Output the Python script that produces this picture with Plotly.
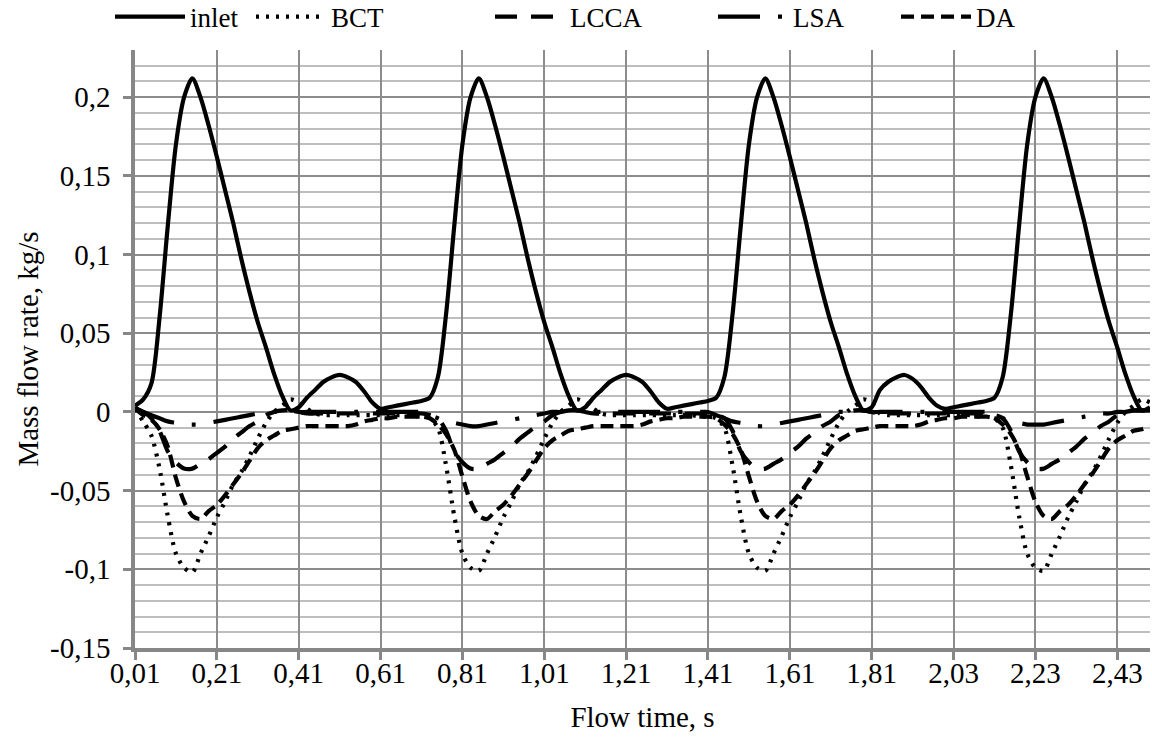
import plotly.graph_objects as go

# ---------------- data ----------------
times = [
    0.01, 0.03, 0.05, 0.07, 0.09, 0.11, 0.13, 0.15, 0.17, 0.19,
    0.21, 0.23, 0.25, 0.27, 0.29, 0.31, 0.33, 0.35, 0.37, 0.39,
    0.41, 0.43, 0.45, 0.47, 0.49, 0.51, 0.53, 0.55, 0.57, 0.59,
    0.61, 0.63, 0.65, 0.67, 0.69, 0.71, 0.73, 0.75, 0.77, 0.79,
    0.81, 0.83, 0.85, 0.87, 0.89, 0.91, 0.93, 0.95, 0.97, 0.99,
    1.01, 1.03, 1.05, 1.07, 1.09, 1.11, 1.13, 1.15, 1.17, 1.19,
    1.21, 1.23, 1.25, 1.27, 1.29, 1.31, 1.33, 1.35, 1.37, 1.39,
    1.41, 1.43, 1.45, 1.47, 1.49, 1.51, 1.53, 1.55, 1.57, 1.59,
    1.61, 1.63, 1.65, 1.67, 1.69, 1.71, 1.73, 1.75, 1.77, 1.79,
    1.81, 1.85, 1.87, 1.89, 1.91, 1.93, 1.95, 1.97, 1.99, 2.01,
    2.03, 2.05, 2.07, 2.09, 2.11, 2.13, 2.15, 2.17, 2.19, 2.21,
    2.23, 2.25, 2.27, 2.29, 2.31, 2.33, 2.35, 2.37, 2.39, 2.41,
    2.43, 2.45, 2.47, 2.49, 2.51,
]

x_tick_labels = ["0,01", "0,21", "0,41", "0,61", "0,81", "1,01", "1,21",
                 "1,41", "1,61", "1,81", "2,03", "2,23", "2,43"]
y_tick_values = [-0.15, -0.1, -0.05, 0, 0.05, 0.1, 0.15, 0.2]
y_tick_labels = ["-0,15", "-0,1", "-0,05", "0", "0,05", "0,1", "0,15", "0,2"]

# inlet
inlet_c1 = [0.004, 0.008, 0.018, 0.060, 0.118, 0.170, 0.200, 0.212, 0.200, 0.182,
            0.162, 0.141, 0.120, 0.097, 0.076, 0.057, 0.041, 0.024, 0.010, 0.001,
            0.003, 0.009, 0.014, 0.019, 0.022, 0.0235, 0.022, 0.019, 0.013, 0.006,
            0.002, 0.003, 0.004, 0.005, 0.006]
inlet_c2 = [0.007, 0.009, 0.022, 0.062, 0.118, 0.170, 0.200, 0.212, 0.200, 0.182,
            0.162, 0.141, 0.120, 0.097, 0.076, 0.057, 0.041, 0.024, 0.010, 0.001,
            0.003, 0.009, 0.014, 0.019, 0.022, 0.0235, 0.022, 0.019, 0.013, 0.006,
            0.002, 0.003, 0.004, 0.005, 0.006]
inlet_c3 = [0.007, 0.009, 0.022, 0.062, 0.118, 0.170, 0.200, 0.212, 0.200, 0.182,
            0.162, 0.141, 0.120, 0.097, 0.076, 0.057, 0.041, 0.024, 0.010, 0.001,
            0.003, 0.014, 0.019, 0.022, 0.0235, 0.021, 0.016, 0.009, 0.004, 0.002,
            0.003, 0.004, 0.005, 0.006]
inlet_c4 = [0.007, 0.009, 0.022, 0.062, 0.118, 0.170, 0.200, 0.212, 0.200, 0.182,
            0.162, 0.141, 0.120, 0.097, 0.076, 0.057, 0.041, 0.024, 0.010, 0.001,
            0.003]

# BCT
bct_c1 = [0.002, -0.006, -0.015, -0.036, -0.066, -0.090, -0.099, -0.102, -0.090, -0.079,
          -0.067, -0.057, -0.046, -0.038, -0.028, -0.017, -0.007, 0.000, 0.004, 0.008,
          0.006, 0.002, -0.001, -0.002, -0.002, -0.002, -0.002, -0.002, -0.002, -0.002,
          -0.002, -0.002, -0.002, -0.002, -0.003]
bct_c2 = [-0.003, -0.004, -0.010, -0.034, -0.066, -0.090, -0.099, -0.101, -0.090, -0.079,
          -0.067, -0.057, -0.046, -0.038, -0.028, -0.017, -0.007, 0.000, 0.004, 0.008,
          0.006, 0.002, -0.001, -0.002, -0.002, -0.002, -0.002, -0.002, -0.002, -0.002,
          -0.002, -0.002, -0.002, -0.002, -0.003]
bct_c3 = [-0.003, -0.004, -0.010, -0.034, -0.066, -0.090, -0.099, -0.101, -0.090, -0.079,
          -0.067, -0.057, -0.046, -0.038, -0.028, -0.017, -0.007, 0.000, 0.004, 0.008,
          0.006, -0.001, -0.002, -0.002, -0.002, -0.002, -0.002, -0.002, -0.002, -0.002,
          -0.002, -0.002, -0.002, -0.003]
bct_c4 = [-0.003, -0.004, -0.010, -0.034, -0.066, -0.090, -0.099, -0.101, -0.090, -0.079,
          -0.067, -0.057, -0.046, -0.038, -0.028, -0.017, -0.007, 0.000, 0.004, 0.008,
          0.006]

# LCCA
lcca_c1 = [0.002, 0.000, -0.004, -0.012, -0.025, -0.032, -0.036, -0.036, -0.033, -0.030,
           -0.026, -0.022, -0.017, -0.013, -0.009, -0.006, -0.002, 0.000, 0.001, 0.001,
           0.000, -0.001, -0.001, -0.001, -0.001, -0.001, -0.001, -0.001, -0.001, -0.001,
           -0.001, -0.001, -0.001, -0.001, -0.001]
lcca_c2 = [-0.001, -0.002, -0.004, -0.012, -0.025, -0.032, -0.036, -0.036, -0.033, -0.030,
           -0.026, -0.022, -0.017, -0.013, -0.009, -0.006, -0.002, 0.000, 0.001, 0.001,
           0.000, -0.001, -0.001, -0.001, -0.001, -0.001, -0.001, -0.001, -0.001, -0.001,
           -0.001, -0.001, -0.001, -0.001, -0.001]
lcca_c3 = [-0.001, -0.002, -0.004, -0.012, -0.025, -0.032, -0.036, -0.036, -0.033, -0.030,
           -0.026, -0.022, -0.017, -0.013, -0.009, -0.006, -0.002, 0.000, 0.001, 0.001,
           0.000, -0.001, -0.001, -0.001, -0.001, -0.001, -0.001, -0.001, -0.001, -0.001,
           -0.001, -0.001, -0.001, -0.001]
lcca_c4 = [-0.001, -0.002, -0.004, -0.012, -0.025, -0.032, -0.036, -0.036, -0.033, -0.030,
           -0.026, -0.022, -0.017, -0.013, -0.009, -0.006, -0.002, 0.000, 0.001, 0.001,
           0.001]

# LSA
lsa_c1 = [0.003, 0.000, -0.002, -0.004, -0.006, -0.007, -0.008, -0.008, -0.008, -0.007,
          -0.006, -0.005, -0.004, -0.003, -0.002, -0.001, 0.000, 0.000, 0.001, 0.001,
          0.000, 0.000, 0.000, 0.000, 0.000, 0.000, 0.000, 0.000, 0.000, 0.000,
          0.000, 0.000, 0.000, 0.000, 0.000]
lsa_c2 = [0.000, -0.002, -0.004, -0.006, -0.007, -0.008, -0.009, -0.009, -0.008, -0.007,
          -0.006, -0.005, -0.004, -0.003, -0.002, -0.001, 0.000, 0.000, 0.001, 0.001,
          0.000, 0.000, 0.000, 0.000, 0.000, 0.000, 0.000, 0.000, 0.000, 0.000,
          0.000, 0.000, 0.000, 0.000, 0.000]
lsa_c3 = [0.000, -0.002, -0.004, -0.006, -0.007, -0.008, -0.009, -0.009, -0.008, -0.007,
          -0.006, -0.005, -0.004, -0.003, -0.002, -0.001, 0.000, 0.000, 0.001, 0.001,
          0.000, 0.000, 0.000, 0.000, 0.000, 0.000, 0.000, 0.000, 0.000, 0.000,
          0.000, 0.000, 0.000, 0.000]
lsa_c4 = [0.000, -0.002, -0.004, -0.006, -0.007, -0.008, -0.008, -0.008, -0.007, -0.006,
          -0.005, -0.004, -0.003, -0.002, -0.001, -0.001, 0.000, 0.000, 0.001, 0.001,
          0.001]

# DA
da_c1 = [0.002, -0.002, -0.005, -0.011, -0.022, -0.042, -0.057, -0.066, -0.068, -0.063,
         -0.059, -0.053, -0.046, -0.039, -0.031, -0.023, -0.018, -0.015, -0.012, -0.011,
         -0.010, -0.009, -0.009, -0.009, -0.009, -0.009, -0.009, -0.008, -0.006, -0.005,
         -0.004, -0.004, -0.003, -0.003, -0.003]
da_c2 = [-0.003, -0.004, -0.008, -0.014, -0.024, -0.041, -0.057, -0.066, -0.068, -0.063,
         -0.059, -0.053, -0.046, -0.039, -0.031, -0.023, -0.018, -0.015, -0.012, -0.011,
         -0.010, -0.009, -0.009, -0.009, -0.009, -0.009, -0.009, -0.008, -0.006, -0.005,
         -0.004, -0.004, -0.003, -0.003, -0.003]
da_c3 = [-0.003, -0.004, -0.008, -0.014, -0.024, -0.041, -0.057, -0.066, -0.068, -0.063,
         -0.059, -0.053, -0.046, -0.039, -0.031, -0.023, -0.018, -0.015, -0.012, -0.011,
         -0.010, -0.009, -0.009, -0.009, -0.009, -0.009, -0.008, -0.006, -0.005,
         -0.004, -0.004, -0.003, -0.003, -0.003]
da_c4 = [-0.003, -0.004, -0.008, -0.014, -0.024, -0.041, -0.057, -0.066, -0.068, -0.063,
         -0.059, -0.053, -0.046, -0.039, -0.031, -0.023, -0.018, -0.015, -0.012, -0.011,
         -0.009]

inlet = inlet_c1 + inlet_c2 + inlet_c3 + inlet_c4
bct = bct_c1 + bct_c2 + bct_c3 + bct_c4
lcca = lcca_c1 + lcca_c2 + lcca_c3 + lcca_c4
lsa = lsa_c1 + lsa_c2 + lsa_c3 + lsa_c4
da = da_c1 + da_c2 + da_c3 + da_c4

categories = [f"{t:.2f}".replace(".", ",") for t in times]

# ---------------- figure ----------------
FONT = "serif"
FS = 29
LFS = 27
GRID_MAJOR = "#8c8c8c"
GRID_MINOR = "#bebebe"
AXIS = "#878787"

series = [
    ("inlet", inlet, "solid", "legend"),
    ("BCT", bct, "3px,7px", "legend2"),
    ("LCCA", lcca, "22px,14px", "legend3"),
    ("LSA", lsa, "42px,18px,4px,18px", "legend4"),
    ("DA", da, "13px,7px", "legend5"),
]

fig = go.Figure()
for name, vals, dash, leg in series:
    fig.add_trace(go.Scatter(
        x=categories, y=vals, name=name, mode="lines",
        line=dict(color="black", width=4.2, dash=dash, shape="spline", smoothing=0.8),
        legend=leg,
    ))

W, H = 1152, 744
ml, mr, mt, mb = 135, 2, 50, 96

legend_text_starts = [192, 333, 572, 795, 978]
legends = {}
for i, ts in enumerate(legend_text_starts):
    key = "legend" if i == 0 else f"legend{i+1}"
    legends[key] = dict(orientation="h", yanchor="middle", xanchor="left",
                        xref="container", yref="container",
                        font=dict(family=FONT, size=LFS, color="black"),
                        bgcolor="rgba(0,0,0,0)", itemwidth=70, tracegroupgap=0,
                        x=(ts - 82) / W, y=(H - 17) / H)

fig.update_layout(
    template="none",
    width=W, height=H,
    margin=dict(l=ml, r=mr, t=mt, b=mb, autoexpand=False),
    paper_bgcolor="white", plot_bgcolor="white",
    font=dict(family=FONT, size=FS, color="black"),
    showlegend=True,
    **legends,
)

fig.update_xaxes(
    type="category", automargin=False,
    range=[0, len(categories) - 1],
    tickmode="array", tickvals=x_tick_labels, ticktext=x_tick_labels,
    showgrid=True, gridcolor=GRID_MAJOR, gridwidth=1.6,
    showline=True, linecolor=AXIS, linewidth=3.5,
    ticks="outside", ticklen=8, tickwidth=3, tickcolor=AXIS,
    tickfont=dict(family=FONT, size=FS, color="black"),
    ticklabelstandoff=-12,
    title=dict(text="Flow time, s", font=dict(family=FONT, size=FS, color="black"), standoff=20),
    zeroline=False,
)
fig.update_yaxes(
    automargin=False,
    range=[-0.15, 0.23],
    tickmode="array", tickvals=y_tick_values, ticktext=y_tick_labels,
    showgrid=True, gridcolor=GRID_MAJOR, gridwidth=1.6,
    minor=dict(tick0=-0.15, dtick=0.01, showgrid=True, gridcolor=GRID_MINOR, gridwidth=1.6, ticks=""),
    showline=True, linecolor=AXIS, linewidth=3.5,
    ticks="outside", ticklen=8, tickwidth=3, tickcolor=AXIS,
    tickfont=dict(family=FONT, size=FS, color="black"),
    ticklabelstandoff=7,
    title=dict(text="Mass flow rate, kg/s", font=dict(family=FONT, size=FS, color="black"), standoff=4),
    zeroline=False,
)

fig.write_html(
    "out.html",
    config={"displayModeBar": False},
    post_script="document.body.style.margin='0';document.body.style.padding='0';",
)
